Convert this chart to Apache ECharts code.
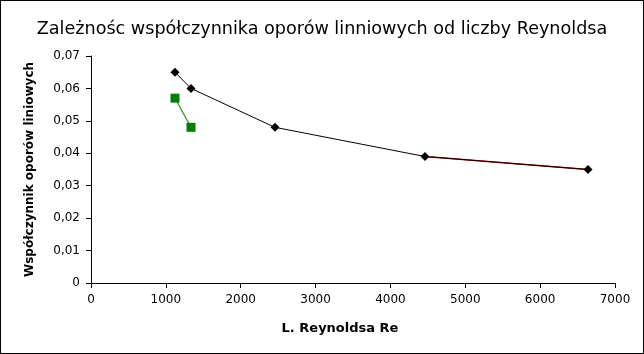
<!DOCTYPE html>
<html><head><meta charset="utf-8">
<script src="https://cdn.jsdelivr.net/npm/echarts@6/dist/echarts.min.js"></script>
<style>html,body{margin:0;padding:0;background:#fff}#c{width:644px;height:354px;box-sizing:border-box;border:1px solid #000}</style>
</head><body><div id="c"></div>
<script>
const reynoldsBlack = [1122, 1336, 2458, 4462, 6639];
const lambdaBlack = [0.065, 0.060, 0.048, 0.039, 0.035];
const reynoldsGreen = [1122, 1336];
const lambdaGreen = [0.057, 0.048];
const trendX = [4462, 6639];
const trendY = [0.039, 0.035];

const zip = (a, b) => a.map((v, i) => [v, b[i]]);
const chart = echarts.init(document.getElementById('c'), null, {renderer: 'canvas'});
const font = 'DejaVu Sans';
chart.setOption({
  animation: false,
  title: {
    text: 'Zależnośc współczynnika oporów linniowych od liczby Reynoldsa',
    left: 'center', top: 14,
    textStyle: {fontFamily: font, fontSize: 17.6, fontWeight: 'normal', color: '#000'}
  },
  grid: {left: 90, right: 28, top: 55, bottom: 70},
  xAxis: {
    type: 'value', min: 0, max: 7000, interval: 1000,
    name: 'L. Reynoldsa Re', nameLocation: 'middle', nameGap: 39,
    nameTextStyle: {fontFamily: font, fontSize: 13, fontWeight: 'bold', color: '#000', padding: [0, 26, 0, 0]},
    axisLine: {lineStyle: {color: '#000', width: 1}},
    axisTick: {show: true, length: 5, lineStyle: {color: '#000'}},
    axisLabel: {fontFamily: font, fontSize: 12, color: '#000', margin: 11,
      formatter: v => String(v)},
    splitLine: {show: false}
  },
  yAxis: {
    type: 'value', min: 0, max: 0.07, interval: 0.01,
    name: 'Współczynnik oporów liniowych', nameLocation: 'middle', nameGap: 55,
    nameTextStyle: {fontFamily: font, fontSize: 12, fontWeight: 'bold', color: '#000'},
    axisLine: {show: true, lineStyle: {color: '#000', width: 1}},
    axisTick: {show: true, length: 5, lineStyle: {color: '#000'}},
    axisLabel: {fontFamily: font, fontSize: 12, color: '#000', margin: 11,
      formatter: v => v === 0 ? '0' : v.toFixed(2).replace('.', ',')},
    splitLine: {show: false}
  },
  series: [
    {type: 'line', data: zip(trendX, trendY), symbol: 'none', z: 1,
     lineStyle: {color: '#cc0000', width: 1.5}},
    {type: 'line', data: zip(reynoldsGreen, lambdaGreen), symbol: 'rect', symbolSize: 9, z: 2,
     itemStyle: {color: '#008000'}, lineStyle: {color: '#33a033', width: 1.2}},
    {type: 'line', data: zip(reynoldsBlack, lambdaBlack), symbol: 'diamond', symbolSize: 9, z: 3,
     itemStyle: {color: '#000'}, lineStyle: {color: '#000', width: 1}}
  ]
});
</script></body></html>
